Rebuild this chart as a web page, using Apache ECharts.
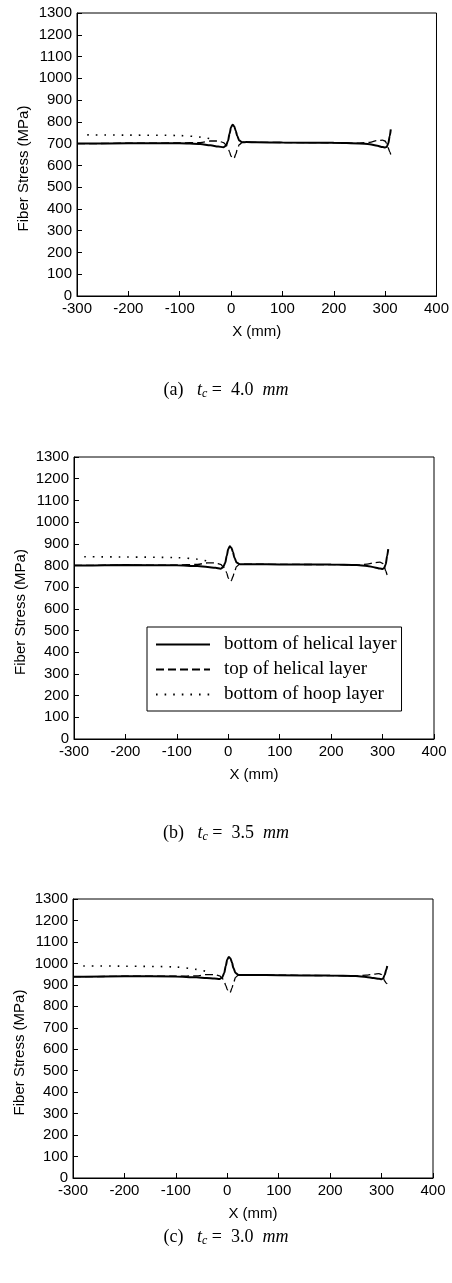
<!DOCTYPE html>
<html>
<head>
<meta charset="utf-8">
<title>Fiber Stress</title>
<script src="https://cdn.jsdelivr.net/npm/echarts@6/dist/echarts.min.js"></script>
<style>
  html, body { margin: 0; padding: 0; background: #fff; }
  #main { width: 452px; height: 1283px; }
</style>
</head>
<body>
<div id="main"></div>
<script>
// x positions (mm) shared by the helical layer curves
var xs = [-300, -280, -200, -100, -60, -40, -25, -15, -10, -6, -3, 0, 3, 6, 9, 12, 16, 22, 30, 50, 100, 200, 250, 270, 285, 295, 300, 303, 306, 309, 311]

// (a) tc = 4.0 mm
var solidA = [700, 700, 702, 702, 698, 692, 687, 683, 690, 712, 745, 775, 787, 780, 760, 735, 714, 706, 707, 706, 705, 704, 701, 697, 690, 684, 682, 685, 700, 735, 765]
var dashedA = [700, 700, 702, 703, 705, 712, 712, 705, 695, 680, 662, 642, 630, 634, 650, 672, 695, 706, 707, 706, 705, 704, 702, 706, 714, 716, 712, 700, 680, 662, 650]
// (b) tc = 3.5 mm
var solidB = [800, 800, 802, 801, 797, 793, 789, 785, 792, 812, 845, 876, 888, 882, 862, 836, 814, 806, 806, 806, 805, 804, 802, 798, 791, 786, 784, 788, 805, 845, 875]
var dashedB = [800, 800, 802, 802, 805, 812, 812, 805, 795, 782, 765, 742, 726, 730, 748, 770, 795, 806, 806, 806, 805, 804, 802, 806, 813, 815, 810, 796, 776, 757, 745]
// (c) tc = 3.0 mm
var solidC = [938, 938, 940, 939, 935, 932, 929, 927, 934, 955, 988, 1018, 1030, 1024, 1005, 978, 955, 946, 946, 946, 945, 943, 941, 937, 932, 928, 926, 930, 945, 970, 988]
var dashedC = [938, 938, 940, 940, 942, 948, 948, 942, 932, 915, 898, 878, 862, 866, 885, 908, 935, 946, 946, 946, 945, 943, 941, 945, 950, 952, 948, 935, 918, 908, 905]

// bottom of hoop layer only exists on the cylinder side
var xsHoop = [-280, -200, -100, -60, -40, -30]
var hoopA = [740, 739, 737, 730, 722, 715]
var hoopB = [840, 839, 836, 829, 820, 813]
var hoopC = [988, 987, 983, 972, 962, 955]

var captions = ['(a)', '(b)', '(c)']
var thickness = ['4.0', '3.5', '3.0']
var names = ['bottom of helical layer', 'top of helical layer', 'bottom of hoop layer']

function zip (x, y) {
  var out = []
  for (var i = 0; i < x.length; i++) {
    out.push([x[i], y[i]])
  }
  return out
}

var sansFont = '"Liberation Sans", Arial, sans-serif'
var serifFont = '"Liberation Serif", "Times New Roman", serif'

// plot boxes in px
var grids = [
  { left: 77, top: 13, width: 361, height: 283 },
  { left: 74, top: 457, width: 360, height: 282 },
  { left: 73, top: 899, width: 360, height: 279 }
]
var captionTop = [381, 824, 1228]

var panels = [
  { solid: solidA, dashed: dashedA, hoop: hoopA },
  { solid: solidB, dashed: dashedB, hoop: hoopB },
  { solid: solidC, dashed: dashedC, hoop: hoopC }
]

var grid = []
var xAxis = []
var yAxis = []
var series = []
var title = []

for (var p = 0; p < 3; p++) {
  grid.push({
    left: grids[p].left,
    top: grids[p].top,
    width: grids[p].width,
    height: grids[p].height,
    show: true,
    borderColor: '#000',
    borderWidth: 1,
    backgroundColor: 'transparent'
  })
  xAxis.push({
    type: 'value',
    gridIndex: p,
    min: -300,
    max: 400,
    interval: 100,
    name: 'X (mm)',
    nameLocation: 'middle',
    nameGap: 28,
    nameMoveOverlap: false,
    nameTextStyle: { fontFamily: sansFont, fontSize: 15, color: '#000' },
    axisLine: { onZero: false, lineStyle: { color: '#000', width: 1 } },
    axisTick: { inside: true, length: 5, lineStyle: { color: '#000' } },
    axisLabel: { margin: 5, fontFamily: sansFont, fontSize: 15, color: '#000', formatter: '{value}' },
    splitLine: { show: false }
  })
  yAxis.push({
    type: 'value',
    gridIndex: p,
    min: 0,
    max: 1300,
    interval: 100,
    name: 'Fiber Stress (MPa)',
    nameLocation: 'middle',
    nameGap: 46,
    nameMoveOverlap: false,
    nameTextStyle: { fontFamily: sansFont, fontSize: 15, color: '#000', padding: [0, 28, 0, 0] },
    axisLine: { onZero: false, lineStyle: { color: '#000', width: 1 } },
    axisTick: { inside: true, length: 5, lineStyle: { color: '#000' } },
    axisLabel: {
      margin: 5,
      fontFamily: sansFont,
      fontSize: 15,
      color: '#000',
      formatter: function (v) { return String(v) }
    },
    splitLine: { show: false }
  })
  series.push({
    name: names[0],
    type: 'line',
    xAxisIndex: p,
    yAxisIndex: p,
    symbol: 'none',
    smooth: 0.3,
    smoothMonotone: 'x',
    itemStyle: { color: '#000' },
    lineStyle: { color: '#000', width: 2, type: 'solid' },
    data: zip(xs, panels[p].solid),
    z: 3
  })
  series.push({
    name: names[1],
    type: 'line',
    xAxisIndex: p,
    yAxisIndex: p,
    symbol: 'none',
    smooth: 0.3,
    smoothMonotone: 'x',
    itemStyle: { color: '#000' },
    lineStyle: { color: '#000', width: 1.3, type: [8, 4] },
    data: zip(xs, panels[p].dashed),
    z: 2
  })
  series.push({
    name: names[2],
    type: 'line',
    xAxisIndex: p,
    yAxisIndex: p,
    symbol: 'none',
    smooth: 0.3,
    itemStyle: { color: '#000' },
    lineStyle: { color: '#000', width: 1.6, type: [1.6, 7] },
    data: zip(xsHoop, panels[p].hoop),
    z: 2
  })
  title.push({
    text: captions[p] + '   {t|t}{s|c} =  ' + thickness[p] + '  {i|mm}',
    left: 'center',
    top: captionTop[p],
    padding: 0,
    textStyle: {
      fontFamily: serifFont,
      fontSize: 18,
      fontWeight: 'normal',
      color: '#000',
      rich: {
        t: { fontFamily: serifFont, fontSize: 18, fontStyle: 'italic', color: '#000' },
        s: { fontFamily: serifFont, fontSize: 12, fontStyle: 'italic', color: '#000', lineHeight: 12, padding: [8, 0, 0, 0] },
        i: { fontFamily: serifFont, fontSize: 18, fontStyle: 'italic', color: '#000' }
      }
    }
  })
}

var chart = echarts.init(document.getElementById('main'))
chart.setOption({
  backgroundColor: '#fff',
  animation: false,
  title: title,
  legend: {
    data: names,
    orient: 'vertical',
    left: 147,
    top: 627,
    padding: [8, 5, 7, 8],
    itemWidth: 54,
    itemHeight: 14,
    itemGap: 6,
    borderColor: '#000',
    borderWidth: 1,
    backgroundColor: '#fff',
    selectedMode: false,
    itemStyle: { opacity: 0 },
    textStyle: { fontFamily: serifFont, fontSize: 19, color: '#000', padding: [0, 0, 0, 9] }
  },
  grid: grid,
  xAxis: xAxis,
  yAxis: yAxis,
  series: series
})
</script>
</body>
</html>
